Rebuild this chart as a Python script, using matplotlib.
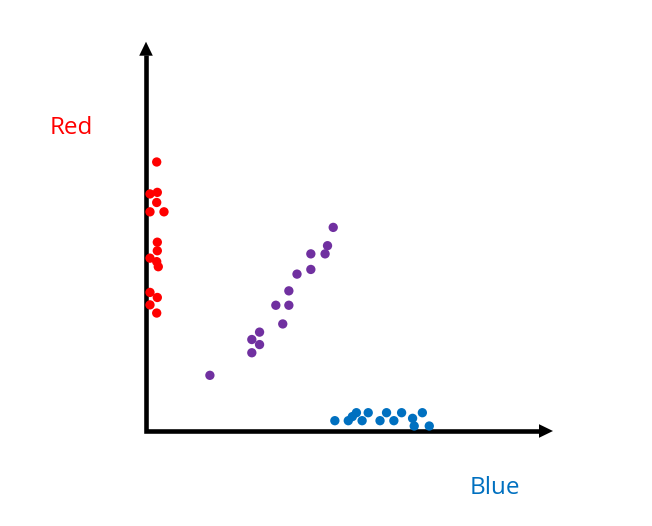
import matplotlib
matplotlib.use("Agg")
import matplotlib.pyplot as plt
from matplotlib.patches import Polygon
from matplotlib.transforms import IdentityTransform

# Data (arbitrary units, axis corner at origin, axes span 0..100)
red_x = [2.63, 0.98, 2.78, 2.63, 0.98, 4.42, 2.78, 2.78, 0.98, 2.63, 3.02, 0.98, 2.78, 0.98, 2.63]
red_y = [69.1, 60.9, 61.3, 58.7, 56.3, 56.3, 48.5, 46.3, 44.4, 43.5, 42.2, 35.6, 34.3, 32.4, 30.3]

purple_x = [46.0, 44.6, 44.0, 40.5, 40.5, 37.1, 35.1, 31.9, 35.1, 33.6, 27.9, 26.0, 27.9, 26.0, 15.7]
purple_y = [52.3, 47.6, 45.5, 45.5, 41.5, 40.3, 36.0, 32.3, 32.3, 27.5, 25.4, 23.5, 22.2, 20.1, 14.3]

blue_x = [46.4, 49.7, 50.7, 51.7, 53.1, 54.6, 57.5, 59.1, 60.9, 62.8, 65.5, 67.9, 65.9, 69.6]
blue_y = [2.65, 2.65, 3.7, 4.7, 2.65, 4.7, 2.65, 4.7, 2.65, 4.7, 3.25, 4.7, 1.28, 1.28]

x_label = "Blue"
y_label = "Red"

RED = "#FF0000"
PURPLE = "#7030A0"
BLUE = "#0070C0"

W, H = 652, 526
fig = plt.figure(figsize=(W / 100, H / 100), dpi=100, facecolor="white")
ax = fig.add_axes([146 / W, (H - 431) / H, 407 / W, 389.3 / H])
ax.set_xlim(0, 100)
ax.set_ylim(0, 100)
ax.axis("off")

s = 45
ax.scatter(red_x, red_y, s=s, color=RED, edgecolors="none", zorder=3, clip_on=False)
ax.scatter(purple_x, purple_y, s=s, color=PURPLE, edgecolors="none", zorder=3, clip_on=False)
ax.scatter(blue_x, blue_y, s=s, color=BLUE, edgecolors="none", zorder=3, clip_on=False)

# axis lines with arrowheads (sizes in pixels)
head_len = 14.0
head_half = 6.8
lw = 3.3
(ox, oy) = ax.transAxes.transform((0, 0))
(tx, ty) = ax.transAxes.transform((0, 1))
(rx, ry) = ax.transAxes.transform((1, 0))
inv = ax.transAxes.inverted()
ytop = inv.transform((tx, ty - head_len + 1))[1]
xright = inv.transform((rx - head_len + 1, ry))[0]
ax.plot([0, 0, xright], [ytop, 0, 0], transform=ax.transAxes, color="black", lw=lw,
        solid_joinstyle="miter", solid_capstyle="butt", clip_on=False, zorder=2)
up = Polygon([(tx, ty), (tx - head_half, ty - head_len), (tx + head_half, ty - head_len)],
             closed=True, facecolor="black", edgecolor="none", transform=IdentityTransform())
right = Polygon([(rx, ry), (rx - head_len, ry + head_half), (rx - head_len, ry - head_half)],
                closed=True, facecolor="black", edgecolor="none", transform=IdentityTransform())
fig.add_artist(up)
fig.add_artist(right)

fig.text(71.5 / W, 1 - 134.3 / H, y_label, color=RED, fontsize=17.5,
         family="Open Sans", ha="center", va="baseline")
fig.text(495 / W, 1 - 494.3 / H, x_label, color=BLUE, fontsize=17.5,
         family="Open Sans", ha="center", va="baseline")

fig.savefig("out.png", dpi=100, facecolor="white")
